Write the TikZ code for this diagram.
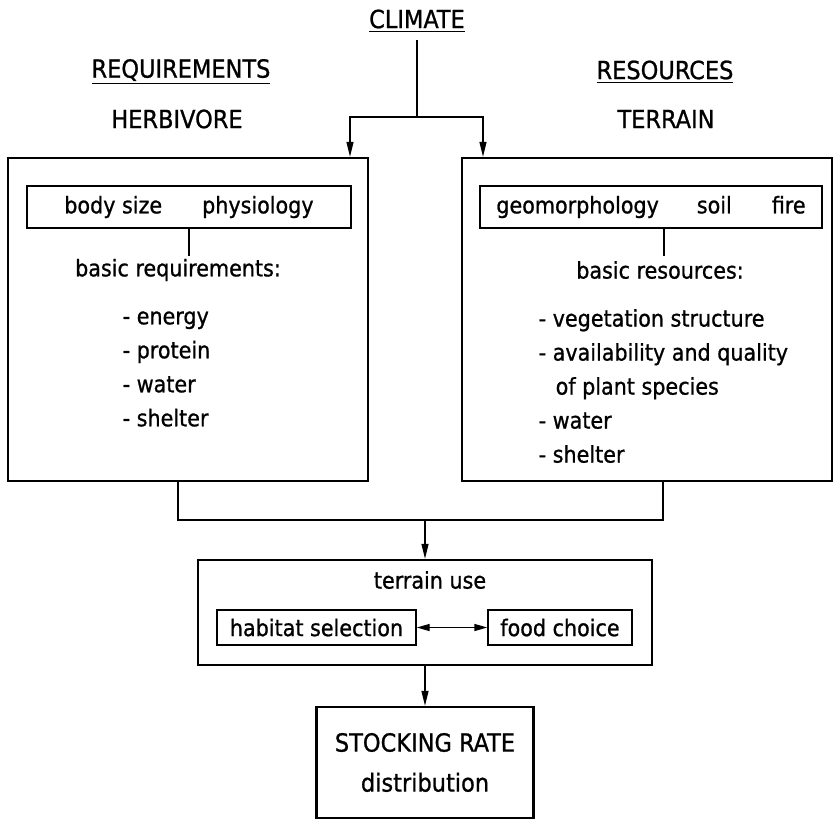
\documentclass[tikz,border=0pt]{standalone}
\usepackage{fontspec}
\setmainfont{DejaVu Sans Condensed}[FakeBold=0.9]
\usetikzlibrary{arrows.meta}

\begin{document}
\begin{tikzpicture}[x=0.5pt,y=-0.5pt,line width=0.7pt,
  font=\fontsize{11.5}{17}\selectfont,
  bigbox/.style={draw,line width=1.2pt,inner sep=0pt},
  smallbox/.style={draw,line width=0.7pt,inner sep=0pt},
  headfont/.style={font=\fontsize{12.5}{15}\selectfont},
  arr/.style={-{Triangle[length=7.5pt,width=3.5pt]}}]
\useasboundingbox (0,0) rectangle (834,820);

\node [headfont] (climate) at (417,21) {\underline{CLIMATE}};
\node [headfont] (requirements) at (181,72) {\underline{REQUIREMENTS}};
\node [headfont] (herbivore) at (177,119) {HERBIVORE};
\node [headfont] (resources) at (665,72) {\underline{RESOURCES}};
\node [headfont] (terrainhead) at (666,119) {TERRAIN};

\node [bigbox,minimum width=180pt,minimum height=161.5pt] (leftbox) at (188,319.5) {};
\node [bigbox,minimum width=185pt,minimum height=161.5pt] (rightbox) at (647,319.5) {};

\node [smallbox,minimum width=162pt,minimum height=21pt] (bodyphys) at (189,207) {body size\hspace{20pt}physiology};
\node [smallbox,minimum width=171pt,minimum height=21pt] (geosoil) at (651,207) {geomorphology\hspace{19pt}soil\hspace{20pt}fire};
\draw (bodyphys.south) -- ++(0,27);
\draw ([xshift=6.5pt]geosoil.south) -- ++(0,27);

\node (basicreq) at (178,270) {basic requirements:};
\node (basicres) at (660,270) {basic resources:};
\node [anchor=west,align=left,inner sep=0pt] (reqlist) at (122,369) {- energy\\- protein\\- water\\- shelter};
\node [anchor=west,align=left,inner sep=0pt] (reslist) at (538,386) {- vegetation structure\\- availability and quality\\\hspace*{8.5pt}of plant species\\- water\\- shelter};

\coordinate (split) at (417,117);
\draw (climate) -- (split);
\draw [arr] (split) -| ([xshift=81pt]leftbox.north);
\draw [arr] (split) -| ([xshift=-82pt]rightbox.north);

\node [bigbox,minimum width=227pt,minimum height=52.5pt] (terrain) at (425,612.5) {};
\node (use) at (430,580) {terrain use};
\node [smallbox,minimum width=99.5pt,minimum height=17.5pt] (habitat) at (316.5,627.5) {habitat selection};
\node [smallbox,minimum width=72pt,minimum height=17.5pt] (food) at (560,627.5) {food choice};
\draw [{Triangle[length=6.5pt,width=3.5pt]}-{Triangle[length=6.5pt,width=3.5pt]}] (habitat) -- (food);

\coordinate (jl) at (178,520);
\coordinate (jr) at (663,520);
\draw (leftbox.south -| jl) -- (jl) -- (jr) -- (rightbox.south -| jr);
\draw [arr] (jl -| terrain.north) -- (terrain.north);

\node [bigbox,headfont,align=center,minimum width=108.5pt,minimum height=55.5pt] (stock) at (425,762.5) {STOCKING RATE\\[5pt]distribution};
\draw [arr] (terrain.south) -- (stock.north);
\end{tikzpicture}
\end{document}
